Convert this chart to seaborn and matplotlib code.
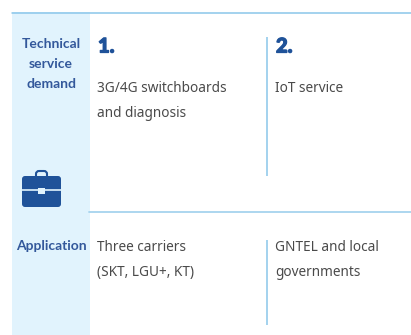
import matplotlib
matplotlib.use('Agg')
import matplotlib.pyplot as plt
import matplotlib.patheffects as pe
from matplotlib.patches import FancyBboxPatch, Rectangle
import seaborn as sns

row_labels = ['Technical\nservice\ndemand', 'Application']
column_numbers = ['1.', '2.']
demand_texts = ['3G/4G switchboards\nand diagnosis', 'IoT service']
application_texts = ['Three carriers\n(SKT, LGU+, KT)', 'GNTEL and local\ngovernments']

BLUE = '#1f5299'
LABEL = '#33589b'
TEXT = '#4a4a4a'
LINE = '#8ac6ea'
PANEL = '#e1f3fd'

sns.set_theme(style='white')
plt.rcParams['font.family'] = ['Noto Sans', 'DejaVu Sans']

fig, ax = plt.subplots(figsize=(4.11, 3.35), dpi=100)
ax.set_position([0, 0, 1, 1])
ax.set_xlim(0, 411)
ax.set_ylim(335, 0)
ax.axis('off')

# left panel and rules
ax.add_patch(Rectangle((12, 12), 78, 323, color=PANEL, lw=0))
ax.plot([12, 411], [12.5, 12.5], color=LINE, lw=1.1)
ax.plot([89, 411], [211.5, 211.5], color='#a6d3ee', lw=1.3)
ax.plot([267.2, 267.2], [37, 176], color=LINE, lw=1.1, solid_capstyle='butt')
ax.plot([267.2, 267.2], [240, 325], color=LINE, lw=1.1, solid_capstyle='butt')

# briefcase icon
ax.add_patch(FancyBboxPatch((36, 171), 11, 9, boxstyle='round,pad=0,rounding_size=3',
                            fc='none', ec=BLUE, lw=1.5))
ax.add_patch(FancyBboxPatch((22, 176), 39, 31, boxstyle='round,pad=0,rounding_size=3',
                            fc=BLUE, ec='none'))
ax.plot([22, 61], [189.5, 189.5], color=PANEL, lw=1.2)
ax.add_patch(Rectangle((38, 188), 7, 6, fc=PANEL, lw=0))

# row labels
ax.text(51, 64, row_labels[0], ha='center', va='center', fontsize=10, fontweight='bold',
        color=LABEL, linespacing=1.8, family='Lato')
ax.text(51.5, 246, row_labels[1], ha='center', va='center', fontsize=10, fontweight='bold',
        color=LABEL, family='Lato')

# columns
col_x = [97, 275]
for x, num, demand, app in zip(col_x, column_numbers, demand_texts, application_texts):
    t = ax.text(x + 1, 46, num, ha='left', va='center', fontsize=14.5, fontweight='black',
                color=BLUE, family='Lato')
    t.set_path_effects([pe.withStroke(linewidth=0.9, foreground=BLUE)])
    ax.text(x, 88.5, demand.split('\n')[0], ha='left', va='center', fontsize=9.8, color=TEXT)
    if '\n' in demand:
        ax.text(x, 113.5, demand.split('\n')[1], ha='left', va='center', fontsize=9.8, color=TEXT)
    ax.text(x, 247.5, app.split('\n')[0], ha='left', va='center', fontsize=9.8, color=TEXT)
    ax.text(x, 272.5, app.split('\n')[1], ha='left', va='center', fontsize=9.8, color=TEXT)

fig.savefig('out.png', dpi=100)
